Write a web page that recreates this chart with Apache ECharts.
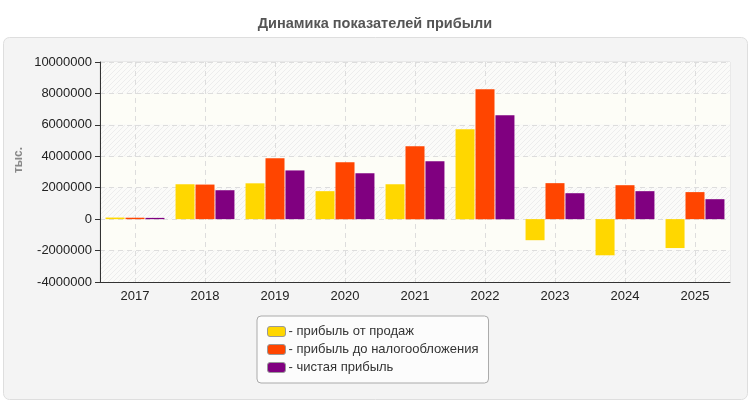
<!DOCTYPE html>
<html>
<head>
<meta charset="utf-8">
<script src="https://cdn.jsdelivr.net/npm/echarts@6/dist/echarts.min.js"></script>
<style>
html, body { margin: 0; padding: 0; background: #fff; }
#chart { width: 750px; height: 400px; }
</style>
</head>
<body>
<div id="chart"></div>
<script>
const years = ['2017', '2018', '2019', '2020', '2021', '2022', '2023', '2024', '2025'];
const salesProfit = [100000, 2220000, 2280000, 1780000, 2220000, 5720000, -1340000, -2300000, -1840000];
const preTaxProfit = [90000, 2200000, 3870000, 3620000, 4640000, 8260000, 2290000, 2160000, 1720000];
const netProfit = [80000, 1840000, 3100000, 2920000, 3690000, 6610000, 1650000, 1780000, 1270000];
const seriesNames = ['прибыль от продаж', 'прибыль до налогообложения', 'чистая прибыль'];
const seriesColors = ['#ffd700', '#ff4500', '#800080'];

// штриховка для полос фона
const hatch = document.createElement('canvas');
hatch.width = 5; hatch.height = 5;
const hc = hatch.getContext('2d');
hc.fillStyle = '#fbfbf9';
hc.fillRect(0, 0, 5, 5);
hc.strokeStyle = '#ededed';
hc.lineWidth = 1;
hc.beginPath();
hc.moveTo(0, 5); hc.lineTo(5, 0);
hc.moveTo(-2.5, 2.5); hc.lineTo(2.5, -2.5);
hc.moveTo(2.5, 7.5); hc.lineTo(7.5, 2.5);
hc.stroke();

const chart = echarts.init(document.getElementById('chart'));
const values = [salesProfit, preTaxProfit, netProfit];

chart.setOption({
    textStyle: { fontFamily: 'Liberation Sans, Arial, sans-serif' },
    title: {
        text: 'Динамика показателей прибыли',
        left: 'center',
        top: 11,
        textStyle: { fontSize: 14.5, fontWeight: 'bold', color: '#555' }
    },
    graphic: [{
        type: 'rect',
        z: -10,
        shape: { x: 3.5, y: 37.5, width: 744, height: 362, r: 6 },
        style: { fill: '#f4f4f4', stroke: '#dedede', lineWidth: 1 }
    }, {
        type: 'text',
        x: 19,
        y: 160,
        rotation: Math.PI / 2,
        style: {
            text: 'тыс.',
            fill: '#888',
            font: 'bold 12px "Liberation Sans", Arial, sans-serif',
            align: 'center',
            verticalAlign: 'middle'
        }
    }],
    legend: {
        orient: 'vertical',
        left: 257,
        top: 316,
        padding: [9, 10, 9, 10],
        itemGap: 5,
        itemWidth: 18,
        itemHeight: 10,
        icon: 'roundRect',
        backgroundColor: '#fcfcfc',
        borderColor: '#aaa',
        borderWidth: 1,
        borderRadius: 4,
        formatter: '- {name}',
        itemStyle: { borderColor: '#999', borderWidth: 1 },
        textStyle: { fontSize: 13, color: '#333', padding: [0, 0, 0, -2] },
        data: seriesNames
    },
    grid: {
        left: 100, right: 20, top: 62, bottom: 118,
        show: true,
        borderColor: '#ddd',
        borderWidth: 1,
        backgroundColor: 'transparent'
    },
    xAxis: {
        type: 'category',
        data: years,
        axisLine: { onZero: false, lineStyle: { color: '#333', width: 1 } },
        axisTick: { alignWithLabel: true, length: 5, lineStyle: { color: '#333' } },
        axisLabel: { fontSize: 13, color: '#222', margin: 8 },
        splitLine: { show: true, alignWithLabel: true, lineStyle: { color: '#ddd', type: [5, 4] } }
    },
    yAxis: {
        type: 'value',
        min: -4000000,
        max: 10000000,
        interval: 2000000,
        axisLine: { show: true, lineStyle: { color: '#333', width: 1 } },
        axisTick: { show: true, length: 5, lineStyle: { color: '#333' } },
        axisLabel: { fontSize: 13, color: '#222', margin: 8, formatter: (v) => String(v) },
        splitLine: { lineStyle: { color: '#ddd', type: [5, 4] } },
        splitArea: { show: true, areaStyle: { color: [{ image: hatch, repeat: 'repeat' }, '#fdfdf7'] } }
    },
    series: seriesNames.map((name, i) => ({
        name: name,
        type: 'bar',
        data: values[i],
        barWidth: 19,
        barGap: '5%',
        itemStyle: { color: seriesColors[i] }
    }))
});
</script>
</body>
</html>
